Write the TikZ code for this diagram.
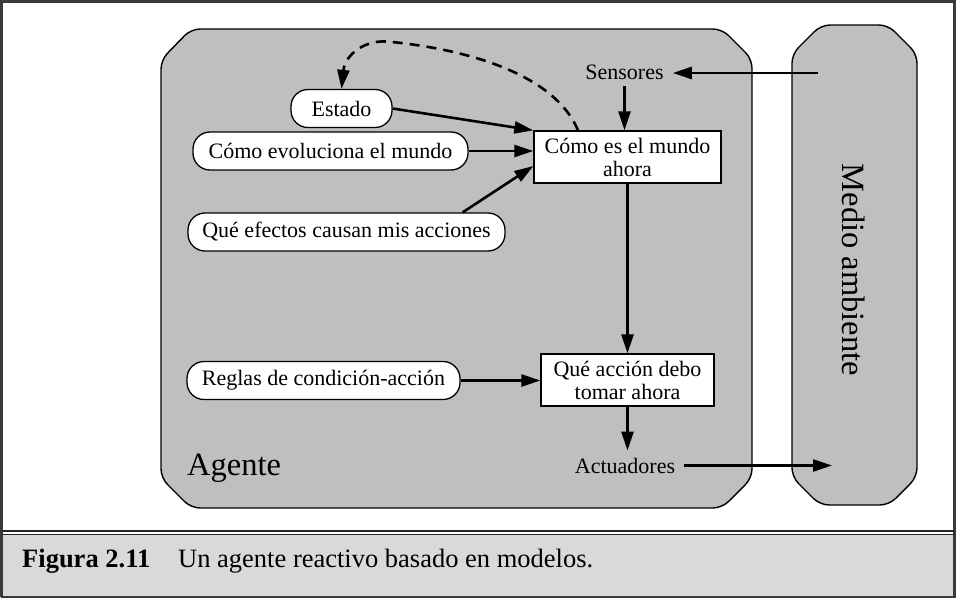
\documentclass[tikz,border=0pt]{standalone}
\usepackage{fontspec}
\setmainfont{Liberation Serif}
\usetikzlibrary{arrows.meta}
\definecolor{agentgray}{HTML}{BFBFBF}
\definecolor{capgray}{HTML}{D9D9D9}
\definecolor{framegray}{HTML}{3A3A3A}
\begin{document}
\begin{tikzpicture}[x=1pt,y=-1pt,
  lbl/.style={font=\fontsize{22}{23}\selectfont},
  pill/.style={lbl, draw=black, line width=1.3pt, fill=white, rounded corners=17pt, minimum height=38pt, inner sep=0pt},
  box/.style={lbl, draw=black, line width=1.3pt, fill=white, minimum height=52pt, inner sep=0pt, align=center},
  arr/.style={line width=2.6pt, -{Triangle[length=19pt,width=12pt]}},
  panel/.style={draw=black, line width=1.4pt, fill=agentgray, rounded corners=9pt},
  big/.style={font=\fontsize{32.5}{34}\selectfont},
  captext/.style={font=\fontsize{26.5}{28}\selectfont, anchor=base west, inner sep=0pt}]
\useasboundingbox (0,0) rectangle (956,605);
% frame and caption
\fill[capgray] (1.5,535) rectangle (954.5,597);
\draw[framegray, line width=2.5pt] (1.5,597) -- (1.5,1.5) -- (954.5,1.5) -- (954.5,597);
\draw[framegray, line width=1.6pt] (0.5,597) -- (955.5,597);
\draw[black!85, line width=2pt] (1.5,531) -- (954.5,531);
\draw[black!85, line width=1.6pt] (1.5,534.3) -- (954.5,534.3);
\node[captext, font=\fontsize{26.5}{28}\selectfont\bfseries] (fig) at (22,567) {Figura 2.11};
\node[captext] (captxt) at (178,567) {Un agente reactivo basado en modelos.};
% panels
\draw[panel] (161,60) -- (191,29) -- (722,29) -- (752,59) -- (752,478) -- (722,508) -- (191,508) -- (161,478) -- cycle;
\draw[panel] (792,54) -- (821,25) -- (888,25) -- (917,54) -- (917,477) -- (889,505) -- (820,505) -- (792,477) -- cycle;
\node[big, rotate=-90] (medio) at (854,270) {Medio ambiente};
\node[big, anchor=base west, inner sep=0pt] (agente) at (187,475) {Agente};
% nodes
\node[pill, minimum width=101pt] (estado) at (341.5,108.5) {Estado};
\node[pill, minimum width=275pt] (evol) at (330.5,151) {Cómo evoluciona el mundo};
\node[pill, minimum width=317pt] (efec) at (346.5,232) {Qué efectos causan mis acciones};
\node[pill, minimum width=273pt] (reglas) at (323.5,380.5) {Reglas de condición-acción};
\node[box, minimum width=187pt] (como) at (627.5,157) {Cómo es el mundo\\ahora};
\node[box, minimum width=173pt] (accion) at (627.5,380) {Qué acción debo\\tomar ahora};
\node[lbl, anchor=base, inner xsep=9pt, inner ysep=7pt] (sens) at (624.5,79) {Sensores};
\node[lbl, anchor=base, inner xsep=9pt, inner ysep=7pt] (act) at (625,473) {Actuadores};
\coordinate (sin) at (818,73);
\coordinate (sout) at (832,465);
\coordinate (arctop) at (392,42);
% connectors
\draw[arr] (sin) -- (sin -| sens.east);
\draw[arr] (sens.south) -- (sens.south |- como.north);
\draw[arr] (estado.east) -- (como.north west);
\draw[arr] (evol.east) -- (evol.east -| como.west);
\draw[arr] ([xshift=-43pt]efec.north east) -- ([yshift=-9pt]como.west);
\draw[arr] (reglas.east) -- (reglas.east -| accion.west);
\draw[arr] (como.south) -- (accion.north);
\draw[arr] (accion.south) -- (accion.south |- act.north);
\draw[arr] (act.east) -- (act.east -| sout);
\draw[arr, dash pattern=on 10pt off 7pt] ([xshift=-49.5pt]como.north) .. controls (555,75) and (470,50) .. (arctop) .. controls (365,38) and (345,55) .. (estado.north);
\end{tikzpicture}
\end{document}
